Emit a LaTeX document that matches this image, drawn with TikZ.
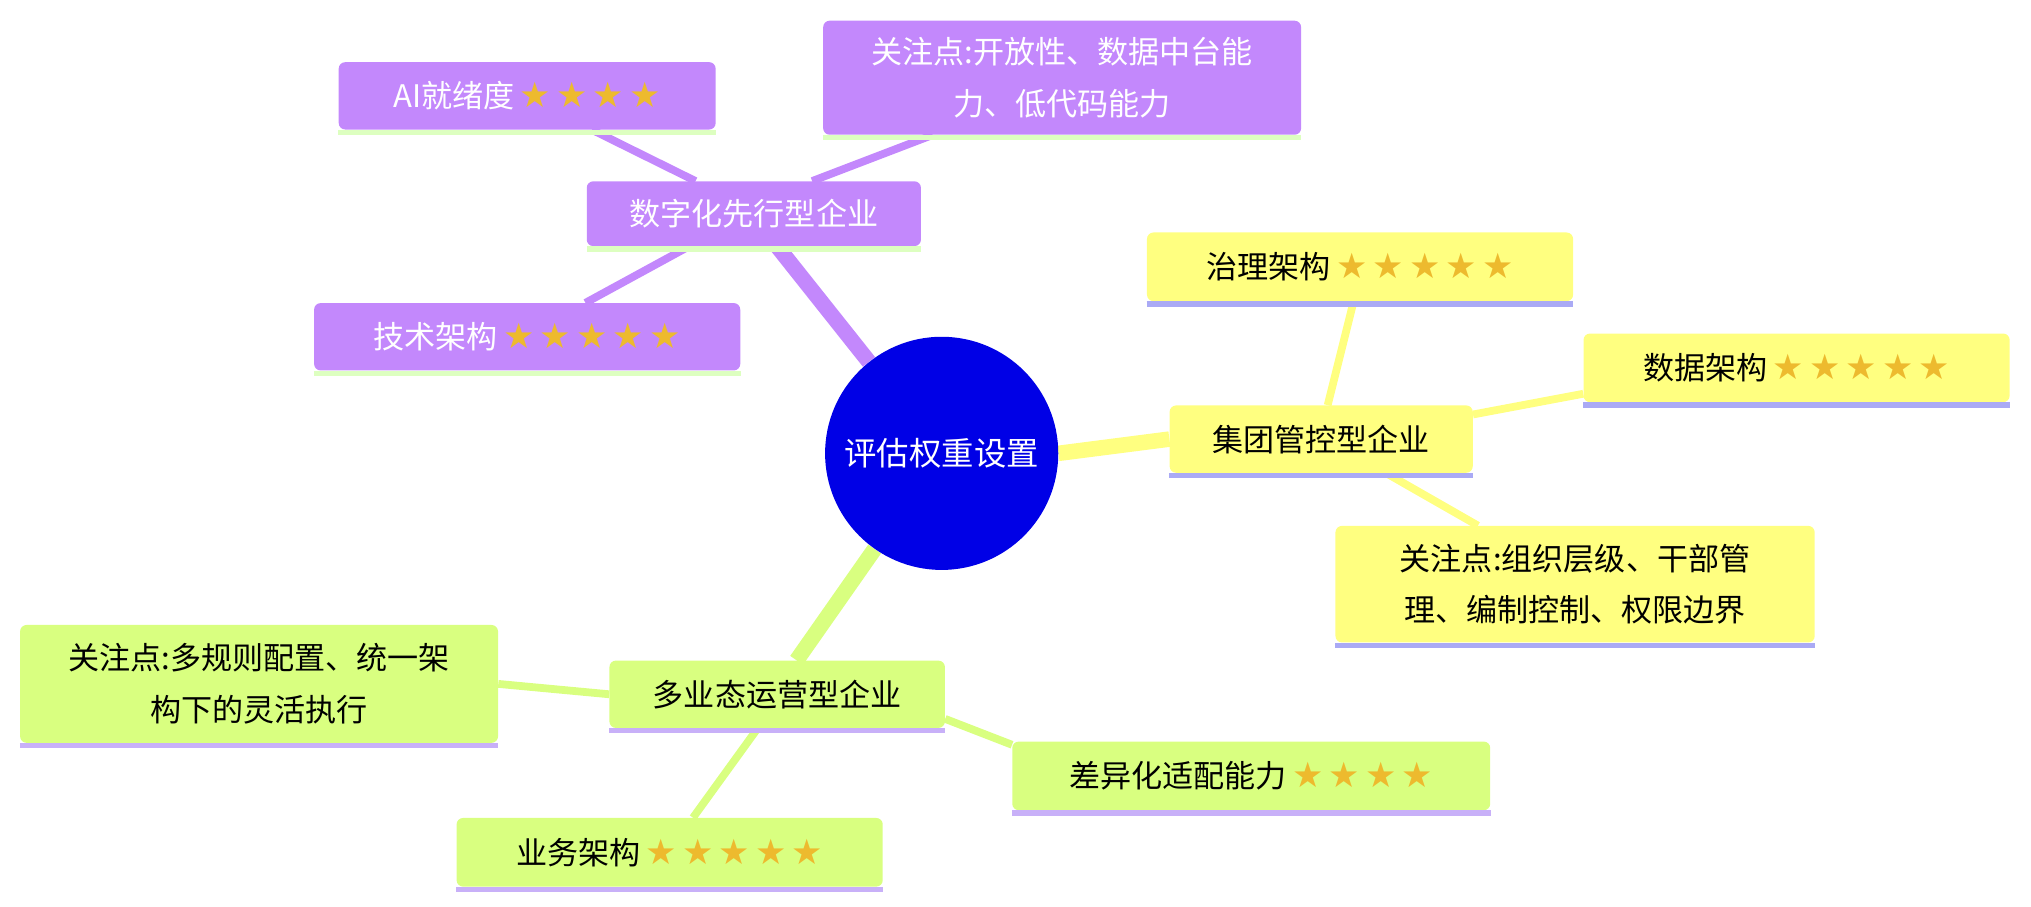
\documentclass[tikz,border=0pt]{standalone}
\usepackage{fontspec}
\setmainfont{Noto Sans CJK SC}
\newfontfamily\starfont{DejaVu Sans}
\usetikzlibrary{backgrounds}
\definecolor{pur}{HTML}{C388FC}
\definecolor{yel}{HTML}{FFFF80}
\definecolor{grn}{HTML}{D9FF80}
\definecolor{pbord}{HTML}{DDFFC0}
\definecolor{ybord}{HTML}{AAAAF5}
\definecolor{gbord}{HTML}{C8B0F8}
\definecolor{gold}{HTML}{EDBA2E}
\definecolor{ctr}{HTML}{0000E6}
\newcommand{\stars}[1]{{\starfont\fontsize{27}{30}\selectfont\color{gold}\foreach \i in {1,...,#1}{\hspace{4pt}★}}}
\begin{document}
\begin{tikzpicture}[x=1pt,y=-1pt,
  box/.style={rounded corners=5pt, inner sep=0pt, font=\fontsize{24}{40}\selectfont, align=center},
  pbox/.style={box, fill=pur, text=white},
  ybox/.style={box, fill=yel, text=black},
  gbox/.style={box, fill=grn, text=black},
  main/.style={line width=12pt},
  sub/.style={line width=6pt}]
\useasboundingbox (0,0) rectangle (1568,700);
\node[circle, fill=ctr, minimum size=180pt, inner sep=0pt, text=white, font=\fontsize{25}{28}\selectfont] (c) at (727,350) {评估权重设置};
% purple
\node[pbox, minimum width=258, minimum height=50] (d) at (582,165) {数字化先行型企业};
\node[pbox, minimum width=291, minimum height=52] (d1) at (407,74) {AI就绪度\stars{4}};
\node[pbox, minimum width=369, minimum height=88] (d2) at (820,60) {关注点:开放性、数据中台能\\力、低代码能力};
\node[pbox, minimum width=329, minimum height=52] (d3) at (407,260) {技术架构\stars{5}};
% yellow
\node[ybox, minimum width=234, minimum height=52] (j) at (1020,339) {集团管控型企业};
\node[ybox, minimum width=329, minimum height=53] (j1) at (1050,206) {治理架构\stars{5}};
\node[ybox, minimum width=329, minimum height=53] (j2) at (1387,284) {数据架构\stars{5}};
\node[ybox, minimum width=370, minimum height=90] (j3) at (1216,451) {关注点:组织层级、干部管\\理、编制控制、权限边界};
% green
\node[gbox, minimum width=259, minimum height=52] (m) at (600,536) {多业态运营型企业};
\node[gbox, minimum width=369, minimum height=91] (m1) at (200,528) {关注点:多规则配置、统一架\\构下的灵活执行};
\node[gbox, minimum width=369, minimum height=53] (m2) at (966,599) {差异化适配能力\stars{4}};
\node[gbox, minimum width=329, minimum height=53] (m3) at (517,658) {业务架构\stars{5}};
% bottom borders
\foreach \n/\c in {d/pbord,d1/pbord,d2/pbord,d3/pbord,j/ybord,j1/ybord,j2/ybord,j3/ybord,m/gbord,m1/gbord,m2/gbord,m3/gbord}
  \draw[\c, line width=4pt] ([yshift=-2pt]\n.south west) -- ([yshift=-2pt]\n.south east);
\begin{scope}[on background layer]
\draw[main, pur] (c) -- ([xshift=18pt]d.south);
\draw[main, yel] (c.east) -- (j.west);
\draw[main, grn] (c) -- ([xshift=15pt]m.north);
\draw[sub, pur] ([xshift=-45pt]d.north) -- ([xshift=50pt]d1.south);
\draw[sub, pur] ([xshift=45pt]d.north) -- ([xshift=-100pt]d2.south);
\draw[sub, pur] ([xshift=-50pt]d.south) -- ([xshift=45pt]d3.north);
\draw[sub, yel] ([xshift=5pt]j.north) -- ([xshift=-5pt]j1.south);
\draw[sub, yel] ([yshift=19pt]j.east) -- ([yshift=-20pt]j2.west);
\draw[sub, yel] ([xshift=50pt]j.south) -- ([xshift=-75pt]j3.north);
\draw[sub, grn] (m.west) -- (m1.east);
\draw[sub, grn] ([yshift=-19pt]m.east) -- ([yshift=24pt]m2.west);
\draw[sub, grn] ([xshift=-15pt]m.south) -- ([xshift=18pt]m3.north);
\end{scope}
\end{tikzpicture}
\end{document}
